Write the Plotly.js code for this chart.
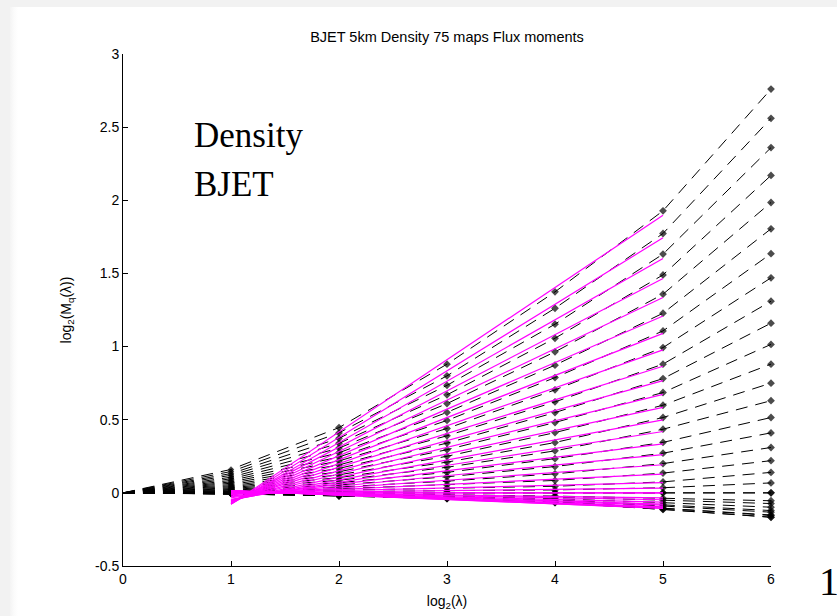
<!DOCTYPE html>
<html>
<head>
<meta charset="utf-8">
<script src="https://cdn.plot.ly/plotly-3.0.1.min.js"></script>
<style>
  html, body { margin: 0; padding: 0; width: 837px; height: 616px; overflow: hidden; background: #f2f2f2; }
  #panel { position: absolute; left: 10px; top: 7px; right: 0; bottom: 0;
           background: linear-gradient(to right, #f4f4f4 0px, #fbfbfb 4px, #ffffff 8px); }
  #chart { position: absolute; left: 0; top: 0; width: 837px; height: 616px; }
</style>
</head>
<body>
<div id="panel"></div>
<div id="chart"></div>
<script>
// Scale axis: log2 of the resolution ratio lambda
const logLambda = [0, 1, 2, 3, 4, 5, 6];

// Moment orders q (one curve each)
const qValues = [0.0, 0.1, 0.2, 0.3, 0.4, 0.5, 0.6, 0.7, 0.8, 0.9, 1.0,
                 1.1, 1.2, 1.3, 1.4, 1.5, 1.6, 1.7, 1.8, 1.9, 2.0,
                 2.1, 2.2, 2.3, 2.4, 2.5, 2.6, 2.7, 2.8, 2.9, 3.0];

// log2(M_q(lambda)) at each scale, listed in the same order as qValues
const logM_l0 = [0, 0, 0, 0, 0, 0, 0, 0, 0, 0, 0,
                 0, 0, 0, 0, 0, 0, 0, 0, 0, 0,
                 0, 0, 0, 0, 0, 0, 0, 0, 0, 0];
const logM_l1 = [0, -0.003, -0.005, -0.006, -0.007, -0.007, -0.007, -0.006, -0.004, -0.002, 0,
                 0.003, 0.006, 0.009, 0.013, 0.018, 0.023, 0.029, 0.035, 0.042, 0.049,
                 0.057, 0.066, 0.075, 0.085, 0.096, 0.107, 0.120, 0.132, 0.146, 0.160];
const logM_l2 = [0, -0.009, -0.015, -0.019, -0.021, -0.021, -0.020, -0.017, -0.013, -0.007, 0,
                 0.008, 0.018, 0.028, 0.040, 0.054, 0.069, 0.086, 0.104, 0.123, 0.144,
                 0.167, 0.191, 0.218, 0.245, 0.274, 0.306, 0.339, 0.373, 0.410, 0.446];
const logM_l3 = [0, -0.018, -0.029, -0.036, -0.040, -0.040, -0.037, -0.032, -0.024, -0.013, 0,
                 0.015, 0.033, 0.055, 0.080, 0.110, 0.140, 0.175, 0.210, 0.250, 0.295,
                 0.340, 0.390, 0.440, 0.495, 0.550, 0.610, 0.670, 0.735, 0.800, 0.880];
const logM_l4 = [0, -0.030, -0.048, -0.060, -0.066, -0.067, -0.062, -0.053, -0.040, -0.022, 0,
                 0.020, 0.045, 0.085, 0.130, 0.180, 0.234, 0.287, 0.344, 0.412, 0.481,
                 0.549, 0.622, 0.704, 0.788, 0.873, 0.964, 1.057, 1.153, 1.262, 1.374];
const logM_l5 = [0, -0.050, -0.082, -0.103, -0.113, -0.113, -0.105, -0.090, -0.067, -0.037, 0,
                 0.035, 0.075, 0.135, 0.200, 0.271, 0.345, 0.435, 0.515, 0.599, 0.686,
                 0.781, 0.880, 0.993, 1.107, 1.228, 1.358, 1.490, 1.632, 1.773, 1.928];
const logM_l6 = [0, -0.073, -0.121, -0.151, -0.166, -0.167, -0.155, -0.132, -0.098, -0.054, 0,
                 0.068, 0.140, 0.220, 0.310, 0.410, 0.515, 0.630, 0.750, 0.880, 1.015,
                 1.160, 1.310, 1.470, 1.635, 1.805, 1.985, 2.170, 2.360, 2.560, 2.760];

const yTickVals = [-0.5, 0, 0.5, 1, 1.5, 2, 2.5, 3];
const yTickText = ['-0.5', '0', '0.5', '1', '1.5', '2', '2.5', '3'];

const columns = [logM_l0, logM_l1, logM_l2, logM_l3, logM_l4, logM_l5, logM_l6];

// Scaling range used for the least-squares fits (log2 lambda = 2..5),
// fitted lines are drawn over 1..5
const fitFrom = 2, fitTo = 5, drawFrom = 1, drawTo = 5;

function fitLine(xs, ys) {
  const n = xs.length;
  const mx = xs.reduce((a, b) => a + b, 0) / n;
  const my = ys.reduce((a, b) => a + b, 0) / n;
  let sxy = 0, sxx = 0;
  for (let i = 0; i < n; i++) { sxy += (xs[i] - mx) * (ys[i] - my); sxx += (xs[i] - mx) ** 2; }
  const slope = sxy / sxx;
  return { slope: slope, intercept: my - slope * mx };
}

const fitTraces = [];
const dataTraces = [];
qValues.forEach((q, i) => {
  const ys = columns.map(col => col[i]);
  const xs = logLambda.slice(fitFrom, fitTo + 1);
  const fit = fitLine(xs, ys.slice(fitFrom, fitTo + 1));
  const xFit = [logLambda[drawFrom], logLambda[drawTo]];
  fitTraces.push({
    x: xFit,
    y: xFit.map(x => fit.intercept + fit.slope * x),
    type: 'scatter', mode: 'lines', name: 'fit q=' + q,
    line: { color: '#ff00ff', width: 1.2 },
    hoverinfo: 'skip'
  });
  dataTraces.push({
    x: logLambda, y: ys,
    type: 'scatter', mode: 'lines+markers', name: 'q=' + q,
    cliponaxis: false,
    line: { color: '#000000', width: 1, dash: '12px,8px' },
    marker: { symbol: 'diamond', color: '#000000', size: [0, 5, 6, 6, 6, 6, 6], line: { width: 0 } }
  });
});

const axisFont = { family: 'Liberation Sans, Arial, sans-serif', size: 14, color: '#000000' };
const serifFont = { family: 'Liberation Serif, Times New Roman, serif', size: 35, color: '#000000' };

const layout = {
  width: 837, height: 616,
  margin: { l: 123, r: 66, t: 54, b: 50, pad: 0 },
  paper_bgcolor: 'rgba(0,0,0,0)',
  plot_bgcolor: 'rgba(0,0,0,0)',
  showlegend: false,
  title: {
    text: 'BJET 5km Density 75 maps Flux moments',
    font: { family: 'Liberation Sans, Arial, sans-serif', size: 14.5, color: '#000000' },
    x: 0.5, xref: 'paper', xanchor: 'center',
    y: 1 - 37 / 616, yref: 'container', yanchor: 'middle'
  },
  xaxis: {
    range: [0, 6], tickmode: 'array', tickvals: logLambda, ticktext: logLambda.map(String),
    showline: true, linecolor: '#000000', linewidth: 1,
    ticks: 'inside', ticklen: 5, tickcolor: '#000000', tickwidth: 1,
    showgrid: false, zeroline: false, tickfont: axisFont,
    title: { text: 'log<sub>2</sub>(λ)', font: axisFont, standoff: 10 }
  },
  yaxis: {
    range: [-0.5, 3], tickmode: 'array', tickvals: yTickVals, ticktext: yTickText,
    showline: true, linecolor: '#000000', linewidth: 1,
    ticks: 'inside', ticklen: 5, tickcolor: '#000000', tickwidth: 1,
    showgrid: false, zeroline: false, tickfont: axisFont,
    title: { text: 'log<sub>2</sub>(M<sub>q</sub>(λ))', font: axisFont, standoff: 20 }
  },
  annotations: [
    { text: 'Density', xref: 'paper', yref: 'paper', x: (192 - 123) / 648, y: (566 - 135) / 512,
      xanchor: 'left', yanchor: 'middle', showarrow: false, font: serifFont },
    { text: 'BJET', xref: 'paper', yref: 'paper', x: (192 - 123) / 648, y: (566 - 184) / 512,
      xanchor: 'left', yanchor: 'middle', showarrow: false, font: serifFont },
    { text: '1', xref: 'paper', yref: 'paper', x: (829 - 123) / 648, y: (566 - 581) / 512,
      xanchor: 'center', yanchor: 'middle', showarrow: false,
      font: { family: 'Liberation Serif, Times New Roman, serif', size: 40, color: '#000000' } }
  ]
};

Plotly.newPlot('chart', dataTraces.concat(fitTraces), layout, { displayModeBar: false, staticPlot: true });
</script>
</body>
</html>
